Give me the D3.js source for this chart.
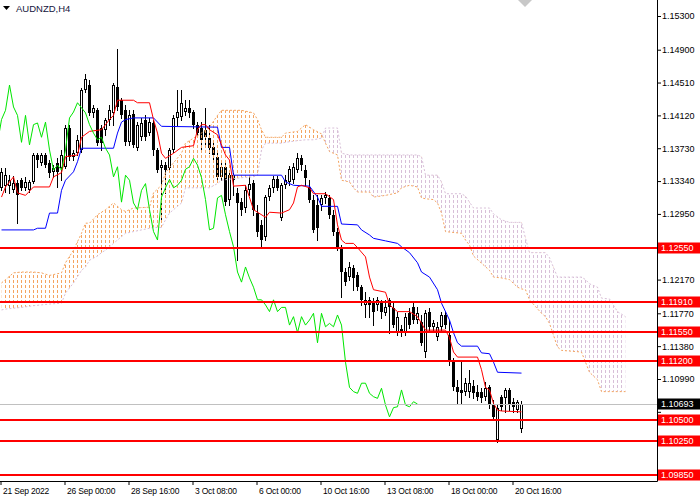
<!DOCTYPE html>
<html>
<head>
<meta charset="utf-8">
<script src="https://cdn.jsdelivr.net/npm/d3@7"></script>
<style>
  body { margin: 0; background: #fff; }
  svg { display: block; font-family: "Liberation Sans", Arial, sans-serif; }
</style>
</head>
<body>
<svg id="chart" width="700" height="500"></svg>
<script>
// ---------- data (AUDNZD H4) ----------
const openP  = [1.1326,1.1328,1.1328,1.1323,1.1332,1.1335,1.1326,1.1323,1.1333,1.1365,1.1355,1.1365,1.1355,1.1345,1.1355,1.1350,1.1351,1.1397,1.1363,1.1367,
                1.1371,1.1442,1.1448,1.1415,1.1418,1.1397,1.1395,1.1407,1.1415,1.1446,1.1430,1.1418,1.1380,1.1414,1.1373,1.1386,1.1407,1.1391,1.1403,1.1371,
                1.1350,1.1353,1.1350,1.1371,1.1409,1.1410,1.1416,1.1421,1.1416,1.1401,1.1397,1.1395,1.1385,1.1374,1.1363,1.1339,1.1351,1.1312,1.1341,1.1320,
                1.1309,1.1302,1.1323,1.1332,1.1296,1.1282,1.1268,1.1315,1.1326,1.1336,1.1290,1.1329,1.1333,1.1335,1.1347,1.1361,1.1347,1.1327,1.1312,1.1306,
                1.1306,1.1314,1.1314,1.1294,1.1274,1.1255,1.1226,1.1220,1.1231,1.1222,1.1208,1.1187,1.1193,1.1190,1.1187,1.1189,1.1177,1.1193,1.1183,1.1155,
                1.1158,1.1155,1.1177,1.1184,1.1169,1.1167,1.1131,1.1179,1.1161,1.1149,1.1161,1.1175,1.1151,1.1119,1.1089,1.1086,1.1084,1.1084,1.1091,1.1084,
                1.1084,1.1078,1.1089,1.1068,1.1027,1.1078,1.1076,1.1086,1.1072,1.1062,1.1040];
const highP  = [1.1350,1.1350,1.1341,1.1340,1.1335,1.1338,1.1339,1.1335,1.1367,1.1367,1.1367,1.1367,1.1359,1.1353,1.1361,1.1371,1.1401,1.1401,1.1371,1.1389,
                1.1445,1.1461,1.1454,1.1424,1.1421,1.1401,1.1409,1.1424,1.1450,1.1491,1.1433,1.1424,1.1418,1.1418,1.1404,1.1409,1.1412,1.1409,1.1407,1.1373,
                1.1359,1.1357,1.1373,1.1412,1.1442,1.1442,1.1430,1.1430,1.1418,1.1404,1.1404,1.1421,1.1401,1.1383,1.1371,1.1359,1.1355,1.1347,1.1345,1.1326,
                1.1314,1.1329,1.1341,1.1335,1.1306,1.1288,1.1317,1.1329,1.1340,1.1340,1.1332,1.1341,1.1352,1.1355,1.1367,1.1365,1.1353,1.1335,1.1317,1.1317,
                1.1317,1.1321,1.1317,1.1300,1.1278,1.1258,1.1231,1.1238,1.1234,1.1226,1.1211,1.1202,1.1196,1.1195,1.1196,1.1193,1.1193,1.1195,1.1189,1.1179,
                1.1163,1.1177,1.1183,1.1189,1.1184,1.1175,1.1181,1.1183,1.1169,1.1167,1.1179,1.1179,1.1169,1.1124,1.1098,1.1119,1.1100,1.1110,1.1098,1.1092,
                1.1088,1.1095,1.1092,1.1074,1.1068,1.1080,1.1088,1.1088,1.1076,1.1074,1.1073];
const lowP   = [1.1323,1.1321,1.1320,1.1321,1.1284,1.1323,1.1323,1.1321,1.1332,1.1351,1.1353,1.1351,1.1339,1.1339,1.1327,1.1335,1.1350,1.1359,1.1359,1.1365,
                1.1369,1.1440,1.1412,1.1410,1.1377,1.1371,1.1389,1.1401,1.1401,1.1418,1.1409,1.1377,1.1377,1.1374,1.1371,1.1383,1.1383,1.1389,1.1365,1.1345,
                1.1288,1.1320,1.1347,1.1369,1.1401,1.1407,1.1412,1.1410,1.1397,1.1386,1.1371,1.1377,1.1367,1.1359,1.1335,1.1335,1.1306,1.1306,1.1317,1.1240,
                1.1294,1.1297,1.1317,1.1294,1.1269,1.1255,1.1264,1.1312,1.1321,1.1323,1.1288,1.1326,1.1329,1.1332,1.1345,1.1347,1.1329,1.1309,1.1274,1.1264,
                1.1300,1.1308,1.1290,1.1270,1.1252,1.1196,1.1211,1.1217,1.1205,1.1205,1.1187,1.1173,1.1173,1.1163,1.1181,1.1171,1.1175,1.1154,1.1161,1.1151,
                1.1150,1.1151,1.1160,1.1165,1.1165,1.1139,1.1125,1.1157,1.1157,1.1145,1.1157,1.1160,1.1116,1.1086,1.1070,1.1070,1.1080,1.1078,1.1076,1.1074,
                1.1072,1.1074,1.1065,1.1050,1.1024,1.1062,1.1060,1.1062,1.1060,1.1060,1.1036];
const closeP = [1.1345,1.1341,1.1335,1.1332,1.1317,1.1326,1.1333,1.1333,1.1365,1.1359,1.1365,1.1353,1.1344,1.1350,1.1345,1.1365,1.1397,1.1363,1.1367,1.1383,
                1.1442,1.1455,1.1415,1.1421,1.1379,1.1379,1.1407,1.1418,1.1448,1.1422,1.1412,1.1380,1.1412,1.1377,1.1401,1.1403,1.1386,1.1404,1.1371,1.1347,
                1.1353,1.1347,1.1371,1.1409,1.1416,1.1427,1.1421,1.1415,1.1401,1.1391,1.1383,1.1386,1.1373,1.1365,1.1339,1.1351,1.1309,1.1341,1.1335,1.1308,
                1.1300,1.1323,1.1331,1.1300,1.1274,1.1264,1.1315,1.1326,1.1336,1.1326,1.1329,1.1335,1.1348,1.1351,1.1361,1.1353,1.1338,1.1312,1.1276,1.1278,
                1.1314,1.1317,1.1294,1.1274,1.1256,1.1226,1.1214,1.1232,1.1219,1.1208,1.1193,1.1193,1.1187,1.1179,1.1193,1.1179,1.1184,1.1184,1.1163,1.1173,
                1.1154,1.1173,1.1163,1.1169,1.1177,1.1142,1.1177,1.1161,1.1165,1.1161,1.1175,1.1163,1.1119,1.1089,1.1084,1.1082,1.1094,1.1094,1.1082,1.1078,
                1.1076,1.1088,1.1068,1.1054,1.1065,1.1066,1.1086,1.1068,1.1066,1.1072,1.10693];

// Tenkan-sen (red) and Kijun-sen (blue): bar index -> price at each visible turn
const tenkanIdx = [0,1,3,4,6,8,12,13,15,16,19,20,22,25,27,28,29,33,34,37,38,39,40,41,43,45,48,49,50,51,52,54,56,57,58,61,63,66,67,70,
                   72,73,74,75,77,78,81,83,84,85,86,88,89,91,92,93,96,97,99,102,104,105,106,111,112,113,114,119,120,121,122,123,124,125,130];
const tenkanVal = [1.1315,1.1327,1.1339,1.1320,1.1317,1.1327,1.1327,1.1339,1.1344,1.1363,1.1365,1.1386,1.1393,1.1395,1.1407,1.1412,1.1430,1.1430,1.1427,1.1427,
                   1.1407,1.1391,1.1367,1.1361,1.1367,1.1374,1.1376,1.1395,1.1401,1.1401,1.1395,1.1389,1.1365,1.1359,1.1328,1.1329,1.1300,1.1291,1.1297,1.1296,
                   1.1300,1.1308,1.1327,1.1329,1.1326,1.1319,1.1319,1.1312,1.1282,1.1264,1.1260,1.1260,1.1255,1.1244,1.1220,1.1205,1.1202,1.1187,1.1179,1.1179,
                   1.1173,1.1165,1.1157,1.1157,1.1148,1.1131,1.1125,1.1125,1.1110,1.1089,1.1086,1.1070,1.1062,1.1061,1.1060];
const kijunIdx = [0,8,9,11,12,14,15,16,18,19,20,28,29,30,31,33,38,40,54,55,57,58,70,71,73,77,79,80,84,85,
                  89,90,92,93,96,99,100,102,104,105,107,109,110,112,113,114,115,119,120,122,123,124,130];
const kijunVal = [1.1276,1.1276,1.1278,1.1278,1.1296,1.1296,1.1323,1.1335,1.1345,1.1357,1.1373,1.1373,1.1391,1.1404,1.1407,1.1409,1.1409,1.1399,1.1398,1.1374,
                  1.1374,1.1341,1.1341,1.1333,1.1329,1.1328,1.1315,1.1304,1.1304,1.1283,1.1282,1.1276,1.1270,1.1266,1.1263,1.1260,1.1256,1.1249,1.1237,1.1226,
                  1.1220,1.1205,1.1189,1.1169,1.1154,1.1142,1.1138,1.1138,1.1130,1.1129,1.1119,1.1107,1.1106];

// Senkou span A / B (cloud, already shifted 26 bars ahead)
const cloudIdx = [0,1,3,5,8,10,12,15,16,18,20,21,22,24,25,26,28,30,31,33,37,38,40,41,42,45,46,48,50,52,54,55,60,63,64,65,66,70,71,74,
                  76,78,80,81,82,84,85,87,88,89,92,93,96,99,100,102,104,105,106,108,109,110,111,115,116,117,118,122,123,125,127,129,130,131,132,135,136,137,139,140,
                  145,146,147,149,150,152,154,156];
const spanA = [1.1213,1.1217,1.1225,1.1226,1.1226,1.1225,1.1222,1.1225,1.1237,1.1252,1.1272,1.1284,1.1284,1.1294,1.1297,1.1300,1.1308,1.1300,1.1298,1.1302,
               1.1303,1.1320,1.1329,1.1344,1.1350,1.1367,1.1379,1.1385,1.1391,1.1398,1.1412,1.1418,1.1418,1.1415,1.1407,1.1395,1.1386,1.1386,1.1391,1.1393,
               1.1401,1.1395,1.1390,1.1379,1.1369,1.1365,1.1335,1.1333,1.1326,1.1321,1.1321,1.1315,1.1317,1.1320,1.1326,1.1329,1.1327,1.1314,1.1313,1.1312,
               1.1308,1.1296,1.1274,1.1272,1.1264,1.1258,1.1245,1.1228,1.1220,1.1219,1.1217,1.1208,1.1206,1.1205,1.1193,1.1177,1.1173,1.1165,1.1137,1.1133,
               1.1131,1.1119,1.1107,1.1098,1.1084,1.1084,1.1084,1.1084];
const spanB = [1.1181,1.1182,1.1183,1.1184,1.1186,1.1187,1.1188,1.1189,1.1201,1.1213,1.1228,1.1232,1.1240,1.1245,1.1249,1.1252,1.1260,1.1268,1.1272,1.1274,
               1.1278,1.1279,1.1279,1.1288,1.1296,1.1308,1.1326,1.1326,1.1326,1.1326,1.1331,1.1335,1.1338,1.1339,1.1341,1.1371,1.1379,1.1379,1.1380,1.1382,
               1.1383,1.1383,1.1385,1.1397,1.1397,1.1397,1.1367,1.1365,1.1365,1.1365,1.1365,1.1365,1.1365,1.1365,1.1365,1.1365,1.1365,1.1363,1.1341,1.1341,
               1.1341,1.1333,1.1319,1.1319,1.1316,1.1309,1.1302,1.1302,1.1295,1.1288,1.1285,1.1285,1.1285,1.1266,1.1249,1.1249,1.1249,1.1243,1.1220,1.1220,
               1.1220,1.1217,1.1212,1.1208,1.1195,1.1194,1.1179,1.1173];

const chikouShift = 26;
const timeTickIdx = [0,16,32,48,64,80,96,112,128];
const timeTickLabels = ['21 Sep 2022','26 Sep 00:00','28 Sep 16:00','3 Oct 08:00','6 Oct 00:00','10 Oct 16:00','13 Oct 08:00','18 Oct 00:00','20 Oct 16:00'];
// scale labels; the ones hidden under the price tags only keep their tick mark
const priceTicks = [1.1530,1.1490,1.1451,1.1412,1.1373,1.1334,1.1295,1.1256,1.1217,1.1177,1.1138,1.1099,1.1060,1.1021,1.0982];
const hiddenTicks = [1.1256,1.1060,1.1021,1.0982];
const levels = [1.1255,1.1191,1.1155,1.1120,1.1050,1.1025,1.0985];
const lastPrice = 1.10693;

// ---------- canvas ----------
const plotW = 657, plotH = 481;
const FONT = '"Liberation Sans", Arial, sans-serif';
const svg = d3.select('#chart');

const x = d3.scaleLinear().domain([0, 156]).range([1.5, 625.5]);   // 4 px per bar
const y = d3.scaleLinear().domain([1.0985, 1.1530]).range([475, 16]);
const fmt = d3.format('.5f');

const cloud = cloudIdx.map((i, k) => ({ i, a: spanA[k], b: spanB[k] }));
const band = d3.area().x(d => x(d.i)).y0(d => y(d.a)).y1(d => y(d.b));

const defs = svg.append('defs');
defs.append('clipPath').attr('id', 'plotClip')
    .append('rect').attr('width', plotW).attr('height', plotH);
defs.append('clipPath').attr('id', 'bandClip')
    .append('path').attr('d', band(cloud));
defs.append('clipPath').attr('id', 'aboveB').append('path')
    .attr('d', d3.area().x(d => x(d.i)).y0(0).y1(d => y(d.b))(cloud));
defs.append('clipPath').attr('id', 'belowB').append('path')
    .attr('d', d3.area().x(d => x(d.i)).y0(d => y(d.b)).y1(plotH)(cloud));

const plot = svg.append('g').attr('clip-path', 'url(#plotClip)');

// ---------- candles ----------
const bars = closeP.map((c, i) => ({ i, o: openP[i], h: highP[i], l: lowP[i], c }));
const cg = plot.append('g').attr('shape-rendering', 'crispEdges');

cg.selectAll('.wick').data(bars).join('line')
    .attr('class', 'wick')
    .attr('x1', d => x(d.i)).attr('x2', d => x(d.i))
    .attr('y1', d => Math.round(y(d.h))).attr('y2', d => Math.round(y(d.l)) + 1)
    .attr('stroke', '#000');

cg.selectAll('.bear').data(bars.filter(d => d.c < d.o)).join('rect')
    .attr('class', 'bear')
    .attr('x', d => x(d.i) - 1.5).attr('width', 3)
    .attr('y', d => Math.round(y(d.o)))
    .attr('height', d => Math.max(1, Math.round(y(d.c)) - Math.round(y(d.o))))
    .attr('fill', '#000');

cg.selectAll('.bull').data(bars.filter(d => d.c >= d.o)).join('rect')
    .attr('class', 'bull')
    .attr('x', d => x(d.i) - 1).attr('width', 2)
    .attr('y', d => Math.round(y(d.c)) + 0.5)
    .attr('height', d => Math.max(0, Math.round(y(d.o)) - Math.round(y(d.c)) - 1))
    .attr('fill', '#fff').attr('stroke', '#000');

// ---------- Ichimoku cloud: dotted vertical strokes on every bar, cut to the band ----------
const slots = d3.range(0, 157);
function hatchLayer(sideClip, color) {
    plot.append('g').attr('clip-path', `url(#${sideClip})`)
        .append('g').attr('clip-path', 'url(#bandClip)')
        .attr('shape-rendering', 'crispEdges')
        .selectAll('line').data(slots).join('line')
        .attr('x1', d => x(d)).attr('x2', d => x(d))
        .attr('y1', 0).attr('y2', plotH)
        .attr('stroke', color).attr('stroke-dasharray', '3,2');
}
hatchLayer('aboveB', '#f4a460');   // span A above span B
hatchLayer('belowB', '#d8bfd8');   // span B above span A

plot.append('path').datum(cloud)
    .attr('d', d3.line().x(d => x(d.i)).y(d => y(d.a)))
    .attr('fill', 'none').attr('stroke', '#f4a460').attr('stroke-dasharray', '2,2');
plot.append('path').datum(cloud)
    .attr('d', d3.line().x(d => x(d.i)).y(d => y(d.b)))
    .attr('fill', 'none').attr('stroke', '#d8bfd8').attr('stroke-dasharray', '2,2');

// ---------- Tenkan / Kijun / Chikou ----------
const lineFrom = (idx, val) => idx.map((i, k) => [x(i), y(val[k])]);
plot.append('path').attr('d', d3.line()(lineFrom(kijunIdx, kijunVal)))
    .attr('fill', 'none').attr('stroke', '#0000ff');
plot.append('path').attr('d', d3.line()(lineFrom(tenkanIdx, tenkanVal)))
    .attr('fill', 'none').attr('stroke', '#ff0000');
plot.append('path').datum(bars)
    .attr('d', d3.line().x(d => x(d.i - chikouShift)).y(d => y(d.c)))
    .attr('fill', 'none').attr('stroke', '#00e600');

// ---------- bid line and horizontal levels ----------
plot.append('line')
    .attr('x1', 0).attr('x2', plotW)
    .attr('y1', Math.round(y(lastPrice)) + 0.5).attr('y2', Math.round(y(lastPrice)) + 0.5)
    .attr('stroke', '#c0c0c0');

plot.selectAll('.level').data(levels).join('line')
    .attr('class', 'level')
    .attr('x1', 0).attr('x2', plotW)
    .attr('y1', d => Math.round(y(d))).attr('y2', d => Math.round(y(d)))
    .attr('stroke', '#ff0000').attr('stroke-width', 2);

// ---------- frame & axes ----------
svg.append('line').attr('x1', plotW + 0.5).attr('x2', plotW + 0.5).attr('y1', 0).attr('y2', plotH + 0.5)
    .attr('stroke', '#000');
svg.append('line').attr('x1', 0).attr('x2', plotW + 0.5).attr('y1', plotH + 0.5).attr('y2', plotH + 0.5)
    .attr('stroke', '#000');

const yAxis = d3.axisRight(y).tickValues(priceTicks)
    .tickFormat(d => hiddenTicks.includes(d) ? '' : fmt(d))
    .tickSize(4).tickPadding(1);
const gy = svg.append('g').attr('transform', `translate(${plotW},0)`).call(yAxis);
gy.select('.domain').remove();
gy.attr('font-family', FONT).attr('font-size', 9);
gy.selectAll('text').attr('fill', '#000');

const xAxis = d3.axisBottom(x).tickValues(timeTickIdx)
    .tickFormat((d, k) => timeTickLabels[k]).tickSize(4).tickPadding(3);
const gx = svg.append('g').attr('transform', `translate(-1,${plotH})`).call(xAxis);
gx.select('.domain').remove();
gx.attr('font-family', FONT).attr('font-size', 8.5);
gx.selectAll('text').attr('text-anchor', 'start').attr('x', 2)
    .attr('letter-spacing', '-0.2px').attr('fill', '#000');

// price tags on the right
function priceTag(v, bg) {
    const yy = Math.round(y(v));
    svg.append('rect').attr('x', plotW + 1).attr('y', yy - 5.5)
        .attr('width', 700 - plotW - 1).attr('height', 11).attr('fill', bg);
    svg.append('text').attr('x', plotW + 4).attr('y', yy).attr('dy', '0.35em')
        .attr('font-family', FONT).attr('font-size', 9).attr('fill', '#fff')
        .text(fmt(v));
}
levels.forEach(v => priceTag(v, '#ff0000'));
priceTag(lastPrice, '#000');

// ---------- header ----------
svg.append('path').attr('d', 'M3,6 L10,6 L6.5,10 Z').attr('fill', '#000');
svg.append('text').attr('x', 16).attr('y', 12)
    .attr('font-family', FONT).attr('font-size', 9.5).attr('fill', '#14143c')
    .text('AUDNZD,H4');
// chart-shift marker at the top
svg.append('path').attr('d', 'M518,0 L532,0 L525,7 Z').attr('fill', '#c8c8c8');
</script>
</body>
</html>
